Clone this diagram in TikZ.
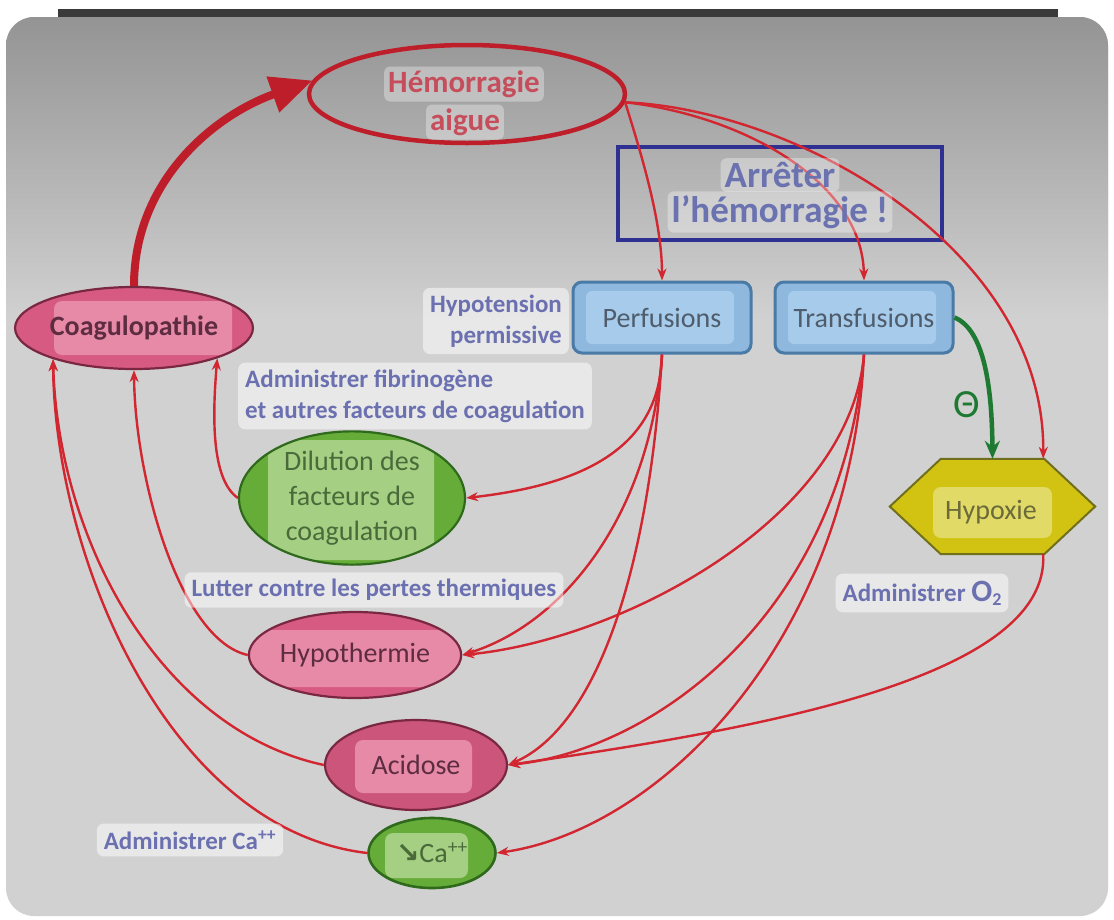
\documentclass[tikz,border=0pt]{standalone}
\usepackage{fontspec}
\setmainfont{Carlito}
\newfontfamily\dvsfont{DejaVu Sans}
\usetikzlibrary{shapes.geometric,arrows.meta,calc}
\definecolor{panelTop}{HTML}{949494}
\definecolor{panelBot}{HTML}{D1D1D1}
\definecolor{barDark}{HTML}{3A3A3A}
\definecolor{hemRed}{HTML}{BE1E2A}
\definecolor{hemText}{HTML}{C64E5C}
\definecolor{arrRed}{HTML}{D22630}
\definecolor{boxBlue}{HTML}{2E3192}
\definecolor{boxText}{HTML}{6A72B0}
\definecolor{labBlue}{HTML}{6B70B0}
\definecolor{perfFill}{HTML}{8EB8DE}
\definecolor{perfInner}{HTML}{A7CBEA}
\definecolor{perfLine}{HTML}{4A7AA6}
\definecolor{perfText}{HTML}{4E5C6C}
\definecolor{coagFill}{HTML}{D65A82}
\definecolor{coagInner}{HTML}{E68AA7}
\definecolor{coagLine}{HTML}{7A2842}
\definecolor{coagText}{HTML}{5E2C40}
\definecolor{greenFill}{HTML}{66AC38}
\definecolor{greenInner}{HTML}{A5D083}
\definecolor{greenLine}{HTML}{2F6A1C}
\definecolor{greenText}{HTML}{4A6A3A}
\definecolor{hexFill}{HTML}{D2C312}
\definecolor{hexInner}{HTML}{E2DA66}
\definecolor{hexLine}{HTML}{70701C}
\definecolor{hexText}{HTML}{6A6A3A}
\definecolor{thetaGreen}{HTML}{1E7A32}
\newcommand\fHem{\fontsize{31}{38}\selectfont\bfseries}
\newcommand\fStop{\fontsize{37}{40}\selectfont\bfseries}
\newcommand\fLab{\fontsize{25}{31}\selectfont\bfseries}
\newcommand\fNode{\fontsize{28}{35}\selectfont}
\begin{document}
\begin{tikzpicture}[x=1pt,y=-1pt,
  conn/.style={draw=arrRed, line width=2.4pt, -{Stealth[length=12pt,width=9pt]}},
  gconn/.style={draw=thetaGreen, line width=4.5pt, -{Stealth[length=18pt,width=15pt]}},
  lab/.style={fill=white, fill opacity=0.5, text opacity=1, text=labBlue, font=\fLab, rounded corners=7pt, inner sep=7pt},
  txtbg/.style={fill=white, fill opacity=0.33, text opacity=1, rounded corners=6pt, inner sep=4pt},
  hilite/.style n args={5}{path picture={\fill[#1, rounded corners=8pt] ($(path picture bounding box.center)+(#2,#3)$) rectangle ($(path picture bounding box.center)+(#4,#5)$);}},
  bluebox/.style={draw=perfLine, line width=3pt, fill=perfFill, rounded corners=9pt, minimum width=178pt, minimum height=71pt, text=perfText, font=\fNode, inner sep=0pt,
    path picture={\fill[perfInner, rounded corners=6pt] ($(path picture bounding box.south west)+(13,-9)$) rectangle ($(path picture bounding box.north east)+(-17,9)$);}},
  oval/.style={ellipse, inner sep=0pt, line width=2.2pt}
]
\useasboundingbox (0,0) rectangle (1114,919);
% background panel
\fill[white] (0,0) rectangle (1114,919);
\fill[barDark] (58,9) rectangle (1058,18);
\fill[panelBot, rounded corners=28pt] (6,17) rectangle (1108,916);
\begin{scope}
  \clip[rounded corners=28pt] (6,17) rectangle (1108,916);
  \shade[top color=panelTop, bottom color=panelBot] (0,17) rectangle (1114,320);
\end{scope}

% main nodes
\node[ellipse, draw=hemRed, line width=4.5pt, minimum width=316pt, minimum height=98pt, inner sep=0pt] (hem) at (467,94) {};
\node[draw=boxBlue, line width=3.5pt, minimum width=324pt, minimum height=93pt, inner sep=0pt] (stop) at (780,193.5) {};
\node[bluebox] (perf) at (662,317.5) {Perfusions};
\node[bluebox] (trans) at (864,317.5) {Transfusions};
\node[oval, draw=coagLine, fill=coagFill, minimum width=222pt, minimum height=82pt, hilite={coagInner}{-80}{-27}{98}{27}, text=coagText, font=\fNode\bfseries] (coag) at (134,328) {Coagulopathie};
\node[oval, draw=greenLine, fill=greenFill, minimum width=226pt, minimum height=130pt, hilite={greenInner}{-84}{-58}{82}{62}, text=greenText, font=\fNode, align=center] (dil) at (352,498) {Dilution des\\facteurs de\\coagulation};
\node[oval, draw=coagLine, fill=coagFill, minimum width=186pt, minimum height=86pt, hilite={coagInner}{-115}{-25}{115}{32}, text=coagText, font=\fNode] (hypo) at (355,655) {Hypothermie};
\node[oval, draw=coagLine, fill=coagFill!95!black, minimum width=182pt, minimum height=90pt, hilite={coagInner}{-61}{-25}{56}{28}, text=coagText, font=\fNode] (acid) at (416,765) {Acidose};
\node[oval, draw=greenLine, line width=2.6pt, fill=greenFill, minimum width=127pt, minimum height=70pt, hilite={greenInner}{-47}{-20}{36}{25}, text=greenText, font=\fNode] (ca) at (432,853) {{\dvsfont\bfseries ↘}Ca\textsuperscript{++}};
% hexagon
\node[minimum width=205pt, minimum height=95pt, inner sep=0pt] (hyp) at (992.5,506.5) {};
\filldraw[fill=hexFill, draw=hexLine, line width=2pt] (hyp.west) -- ($(hyp.north west)+(51,0)$) -- ($(hyp.north east)+(-51,0)$) -- (hyp.east) -- ($(hyp.south east)+(-51,0)$) -- ($(hyp.south west)+(51,0)$) -- cycle;
\fill[hexInner, rounded corners=8pt] (933,487) rectangle (1052,538);
\node[text=hexText, font=\fNode] (hypt) at (991,512) {Hypoxie};

% connectors
\draw[line width=8pt, hemRed, -{Triangle[length=42pt,width=36pt]}] (coag.north) .. controls (134,180) and (215,115) .. (hem.175);
\draw[conn] (hem.-3) .. controls (640,150) and (662,220) .. (perf.north);
\draw[conn] (hem.-3) .. controls (740,115) and (862,180) .. (trans.north);
\draw[conn] (hem.-3) .. controls (800,110) and (1045,250) .. ($(hyp.north east)+(-52,0)$);
\draw[gconn] (trans.east) .. controls (985,330) and (992,390) .. (hyp.north);
\draw[conn] (perf.south) .. controls (660,450) and (580,485) .. (dil.east);
\draw[conn] (perf.south) .. controls (650,520) and (560,625) .. (hypo.east);
\draw[conn] (perf.south) .. controls (650,560) and (600,725) .. (acid.east);
\draw[conn] (trans.south) .. controls (850,520) and (620,640) .. (hypo.east);
\draw[conn] (trans.south) .. controls (840,620) and (650,750) .. (acid.east);
\draw[conn] (trans.south) .. controls (850,640) and (660,830) .. (ca.east);
\draw[conn] ($(hyp.south east)+(-52,0)$) .. controls (1050,680) and (750,730) .. (acid.east);
\draw[conn] (dil.west) .. controls (212,480) and (212,420) .. (coag.-20);
\draw[conn] (hypo.west) .. controls (180,640) and (135,480) .. (coag.south);
\draw[conn] (acid.west) .. controls (160,730) and (58,540) .. (coag.-159);
\draw[conn] (ca.west) .. controls (170,830) and (55,560) .. (coag.-159);

% texts
\node[txtbg, text=hemText, font=\fHem] (hemA) at (464,84) {Hémorragie};
\node[txtbg, text=hemText, font=\fHem] (hemB) at (465,122) {aigue};
\node[txtbg, text=boxText, font=\fStop] (stopA) at (780,175) {Arrêter};
\node[txtbg, text=boxText, font=\fStop] (stopB) at (780,212) {l’hémorragie !};
\node[text=thetaGreen, font=\fontsize{40}{40}\selectfont] (theta) at (967,405) {Θ};
\node[lab, align=right, anchor=east] (hypoperm) at (569,321) {Hypotension\\permissive};
\node[lab, align=left, anchor=west] (fib) at (238,396) {Administrer fibrinogène\\et autres facteurs de coagulation};
\node[lab] (lutter) at (374,590) {Lutter contre les pertes thermiques};
\node[lab] (adminCa) at (190,840) {Administrer Ca\textsuperscript{++}};
\node[lab] (adminO) at (922,593) {Administrer {\fontsize{31}{31}\selectfont O}\raisebox{-0.35ex}{\fontsize{18}{18}\selectfont 2}};
\end{tikzpicture}
\end{document}
